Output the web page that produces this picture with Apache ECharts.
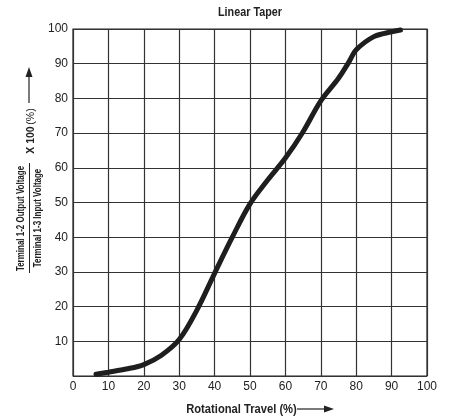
<!DOCTYPE html>
<html>
<head>
<meta charset="utf-8">
<script src="https://cdn.jsdelivr.net/npm/echarts@6/dist/echarts.min.js"></script>
<style>html,body{margin:0;padding:0;background:#fff}#c{width:454px;height:419px}</style>
</head>
<body>
<div id="c"></div>
<script>
var travel = [6.5, 10, 15, 20, 25, 30, 35, 40, 45, 50, 55, 60, 65, 70, 75, 78, 80, 85, 90, 92.5];
var output = [0.5, 1.1, 2.0, 3.3, 6.0, 10.5, 19.0, 29.6, 40.0, 49.6, 56.5, 62.8, 70.4, 79.3, 85.8, 90.6, 94.0, 97.8, 99.2, 99.7];
var xTicks = [0, 10, 20, 30, 40, 50, 60, 70, 80, 90, 100];
var yTicks = [10, 20, 30, 40, 50, 60, 70, 80, 90, 100];
var title = 'Linear Taper';
var xName = 'Rotational Travel (%)';
var yNum = 'Terminal 1-2 Output Voltage';
var yDen = 'Terminal 1-3 Input Voltage';
var yMulA = 'X 100';
var yMulB = '(%)';

var sans = '"Liberation Sans", Arial, sans-serif';
var chart = echarts.init(document.getElementById('c'));
var pts = travel.map(function (t, i) { return [t, output[i]]; });
function txt(x, y, text, size, sx, rot, weight) {
  return { type: 'text', x: x, y: y, rotation: rot || 0, scaleX: sx, scaleY: 1,
    style: { text: text, fontFamily: sans, fontWeight: weight || 'bold', fontSize: size,
      fill: '#222', textAlign: 'center', textVerticalAlign: 'middle' } };
}
chart.setOption({
  animation: false,
  grid: { left: 73, right: 27, top: 29, bottom: 43, show: true, borderColor: '#222', borderWidth: 1.2 },
  xAxis: { type: 'value', min: 0, max: 100, interval: 10,
    axisLine: { show: false }, axisTick: { show: false },
    splitLine: { show: true, lineStyle: { color: '#333', width: 1.2 } },
    axisLabel: { margin: 5, fontFamily: sans, fontSize: 12, color: '#222',
      formatter: function (v) { return xTicks.indexOf(v) >= 0 ? String(v) : ''; } } },
  yAxis: { type: 'value', min: 0, max: 100, interval: 10,
    axisLine: { show: false }, axisTick: { show: false },
    splitLine: { show: true, lineStyle: { color: '#333', width: 1.2 } },
    axisLabel: { margin: 5, fontFamily: sans, fontSize: 12, color: '#222',
      formatter: function (v) { return yTicks.indexOf(v) >= 0 ? String(v) : ''; } } },
  series: [{ type: 'line', data: pts, smooth: 0.35, symbol: 'none',
    lineStyle: { color: '#1e1e1e', width: 5, cap: 'round' } }],
  graphic: [
    txt(250, 12, title, 13, 0.83),
    txt(241.5, 409, xName, 13, 0.86),
    { type: 'line', shape: { x1: 297, y1: 409, x2: 326, y2: 409 }, style: { stroke: '#222', lineWidth: 1.2 } },
    { type: 'polygon', shape: { points: [[334, 409], [324, 405.5], [324, 412.5]] }, style: { fill: '#222' } },
    txt(21, 218.5, yNum, 10.5, 0.76, Math.PI / 2),
    { type: 'line', shape: { x1: 29.5, y1: 163, x2: 29.5, y2: 273 }, style: { stroke: '#222', lineWidth: 1 } },
    txt(38, 218, yDen, 10.5, 0.76, Math.PI / 2),
    txt(30.5, 140, yMulA, 11, 0.95, Math.PI / 2),
    txt(30.5, 116.5, yMulB, 11, 0.95, Math.PI / 2, 'normal'),
    { type: 'line', shape: { x1: 29, y1: 103, x2: 29, y2: 75 }, style: { stroke: '#222', lineWidth: 1.2 } },
    { type: 'polygon', shape: { points: [[29, 67], [25.5, 77], [32.5, 77]] }, style: { fill: '#222' } }
  ]
});
</script>
</body>
</html>
